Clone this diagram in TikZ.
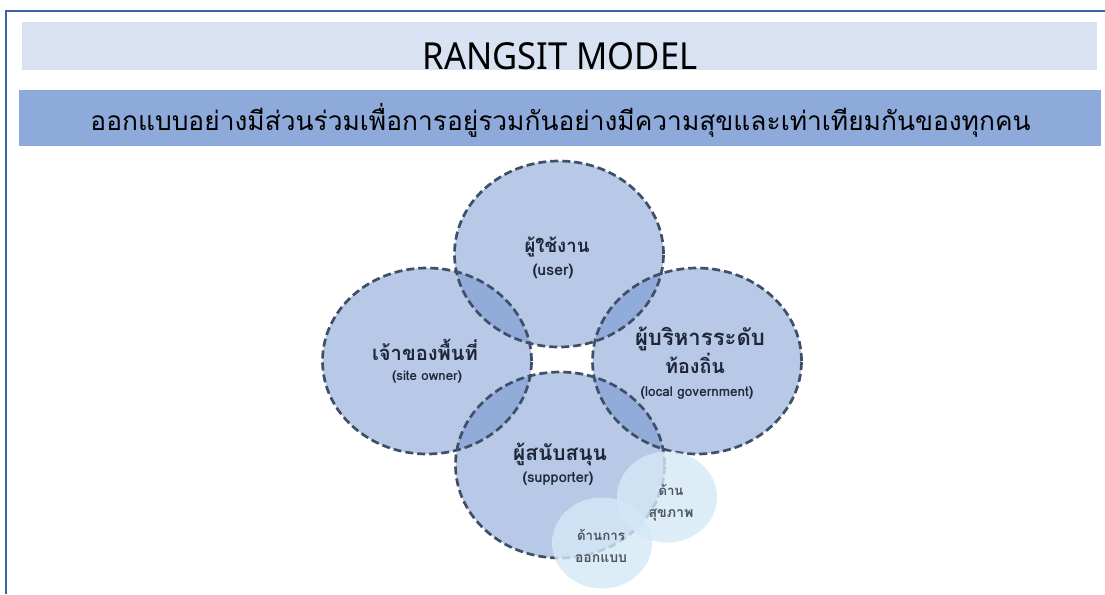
\documentclass[tikz,border=0pt]{standalone}
\usepackage{fontspec}
\usepackage{graphicx}
\setmainfont{Noto Sans}
\newfontfamily\thai[Script=Thai]{Loma}
\newfontfamily\titlefont{Noto Sans}
\usetikzlibrary{shapes.geometric}
\definecolor{frameblue}{HTML}{3B5FA8}
\definecolor{bandA}{HTML}{D9E2F3}
\definecolor{bandB}{HTML}{8EAADB}
\definecolor{cfill}{HTML}{B7C9E6}
\definecolor{covl}{HTML}{91ACD8}
\definecolor{cline}{HTML}{404F68}
\definecolor{sfill}{HTML}{D4E9F7}
\definecolor{ltext}{HTML}{1E2638}
\definecolor{stext}{HTML}{505560}
\tikzset{
  bigc/.style={ellipse, inner sep=0pt, minimum width=209pt, minimum height=186pt},
  bigline/.style={draw=cline, line width=2.7pt, dash pattern=on 8pt off 4pt},
  smallc/.style={ellipse, inner sep=0pt, fill=sfill, fill opacity=0.8, minimum width=100pt, minimum height=91pt},
  mainlab/.style={anchor=base, text=ltext, font=\thai\bfseries, inner sep=0pt},
  sublab/.style={anchor=base, text=ltext, font=\thai\bfseries, inner sep=0pt},
  smalllab/.style={anchor=base, text=stext, font=\thai\bfseries, inner sep=0pt}
}
\newcommand{\fitw}[2]{\resizebox{#1pt}{!}{#2}}
\begin{document}
\begin{tikzpicture}[x=1pt,y=-1pt]
\useasboundingbox (0,0) rectangle (1105,594);
\fill[white] (0,0) rectangle (1105,594);
% frame
\draw[frameblue, line width=2pt] (6,594) -- (6,11) -- (1105,11);
% bands
\fill[bandA] (22,22) rectangle (1097,70);
\fill[bandB] (19,90) rectangle (1101,146);
\node[anchor=base, inner sep=0pt] (title) at (560,70) {\resizebox{275pt}{27pt}{\titlefont RANGSIT MODEL}};
\node[anchor=base, inner sep=0pt] (sub) at (560.5,130) {\fitw{940}{\thai ออกแบบอย่างมีส่วนร่วมเพื่อการอยู่รวมกันอย่างมีความสุขและเท่าเทียมกันของทุกคน}};
% big circle fills
\node[bigc, fill=cfill] (user) at (559,254) {};
\node[bigc, fill=cfill] (site) at (427,361) {};
\node[bigc, fill=cfill] (gov) at (697,361) {};
\node[bigc, fill=cfill] (sup) at (560,465) {};
% overlaps
\begin{scope}
  \clip (559,254) ellipse [x radius=104.5, y radius=93];
  \fill[covl] (427,361) ellipse [x radius=104.5, y radius=93];
  \fill[covl] (697,361) ellipse [x radius=104.5, y radius=93];
\end{scope}
\begin{scope}
  \clip (560,465) ellipse [x radius=104.5, y radius=93];
  \fill[covl] (427,361) ellipse [x radius=104.5, y radius=93];
  \fill[covl] (697,361) ellipse [x radius=104.5, y radius=93];
\end{scope}
% borders
\node[bigc, bigline] at (user) {};
\node[bigc, bigline] at (site) {};
\node[bigc, bigline] at (gov) {};
\node[bigc, bigline] at (sup) {};
% small circles
\node[smallc] (health) at (667,497) {};
\node[smallc] (design) at (602,543) {};
% labels
\node[mainlab] (userT) at (557,252) {\fitw{65}{ผู้ใช้งาน}};
\node[sublab] (userE) at (553,275) {\fitw{41}{(user)}};
\node[mainlab] (siteT) at (425,360) {\fitw{106}{เจ้าของพื้นที่}};
\node[sublab] (siteE) at (427,380) {\fitw{70}{(site owner)}};
\node[mainlab] (govT1) at (700,345) {\fitw{130}{ผู้บริหารระดับ}};
\node[mainlab] (govT2) at (695,373) {\fitw{60}{ท้องถิ่น}};
\node[sublab] (govE) at (697,396) {\fitw{113}{(local government)}};
\node[mainlab] (supT) at (560,460) {\fitw{94}{ผู้สนับสนุน}};
\node[sublab] (supE) at (558,482) {\fitw{71}{(supporter)}};
\node[smalllab] (healthT1) at (671,495) {\fitw{25}{ด้าน}};
\node[smalllab] (healthT2) at (671,517) {\fitw{45}{สุขภาพ}};
\node[smalllab] (designT1) at (601,540) {\fitw{48}{ด้านการ}};
\node[smalllab] (designT2) at (601,562) {\fitw{52}{ออกแบบ}};
\end{tikzpicture}
\end{document}
